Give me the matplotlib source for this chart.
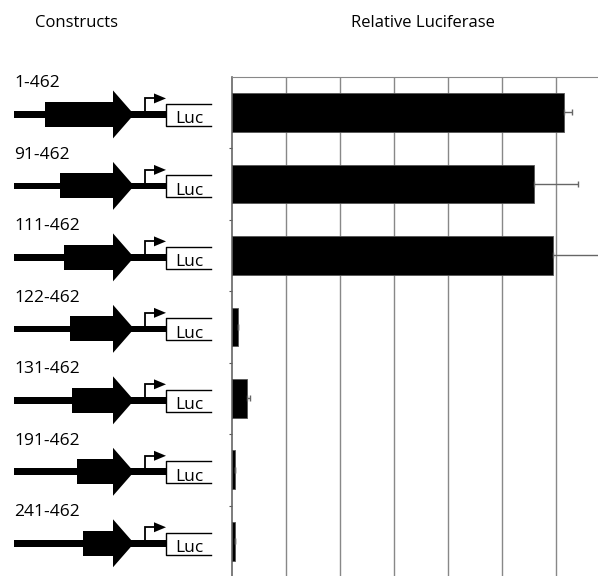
import matplotlib.pyplot as plt
from matplotlib.patches import Rectangle, Polygon

plt.rcParams['font.family'] = ['Open Sans', 'DejaVu Sans']

# promoter deletion constructs and their reporter activity
constructs = ['1-462', '91-462', '111-462', '122-462', '131-462', '191-462', '241-462']
luciferase = [6.14, 5.59, 5.94, 0.11, 0.28, 0.06, 0.05]
luc_err = [0.15, 0.81, 0.95, 0.0, 0.06, 0.0, 0.0]

# left end of the black promoter block in each diagram (pixels)
block_start = [45, 60, 64, 70, 72, 77, 83]

W, H = 598, 576
fig = plt.figure(figsize=(W / 100, H / 100), dpi=100)

# bar panel
ax = fig.add_axes([232 / W, -1 / H, 1 - 232 / W, (577 - 76.7) / H])
n = len(constructs)
pos = list(range(n))
ax.barh(pos, luciferase, height=0.54, color='black', edgecolor='#555555',
        linewidth=0.6, zorder=3)
ax.errorbar(luciferase, pos, xerr=[[0] * n, luc_err], fmt='none',
            ecolor='#666666', elinewidth=1.0, capsize=2.5, capthick=1.0, zorder=4)
ax.set_xlim(0, (W - 232) / 54)
ax.set_ylim(n - 0.5, -0.5)
ax.set_xticks(range(1, 7))
ax.set_xticklabels([])
ax.tick_params(axis='x', length=0)
ax.set_yticks([i + 0.5 for i in range(n)])
ax.set_yticklabels([])
ax.tick_params(axis='y', direction='out', length=2.5, width=0.8, color='#555555')
ax.grid(axis='x', color='#888888', linewidth=1.0)
ax.set_axisbelow(True)
for side in ['right', 'bottom']:
    ax.spines[side].set_visible(False)
ax.spines['top'].set_color('#888888')
ax.spines['left'].set_color('#666666')
ax.spines['left'].set_linewidth(1.2)

# overlay in pixel coordinates for the construct diagrams and headings
ov = fig.add_axes([0, 0, 1, 1])
ov.set_xlim(0, W)
ov.set_ylim(H, 0)
ov.axis('off')

ov.text(77, 27, 'Constructs', ha='center', va='baseline', fontsize=12)
ov.text(423, 27, 'Relative Luciferase', ha='center', va='baseline', fontsize=12)

for i, name in enumerate(constructs):
    yc = H - ax.transData.transform((0, i))[1] + 2
    ov.text(14, yc - 27, name, ha='left', va='baseline', fontsize=12.5)
    # backbone line
    ov.add_patch(Rectangle((14, yc - 3.3), 152, 6.6, color='black', lw=0))
    # promoter block with arrowhead
    ov.add_patch(Rectangle((block_start[i], yc - 12.5), 113 - block_start[i], 25,
                           color='black', lw=0))
    ov.add_patch(Polygon([(113, yc - 24), (113, yc + 24), (134, yc)],
                         closed=True, color='black', lw=0))
    # transcription start arrow
    ov.plot([144.5, 144.5, 155], [yc, yc - 16, yc - 16], color='black', lw=1.3,
            solid_joinstyle='miter')
    ov.add_patch(Polygon([(154, yc - 21), (154, yc - 11), (166, yc - 16)],
                         closed=True, color='black', lw=0))
    # reporter box, open on the right
    ov.plot([211, 165.5, 165.5, 211], [yc - 10.5, yc - 10.5, yc + 11.5, yc + 11.5],
            color='black', lw=1.0)
    ov.text(175, yc + 9, 'Luc', ha='left', va='baseline', fontsize=12.5)

fig.savefig('out.png', dpi=100)
